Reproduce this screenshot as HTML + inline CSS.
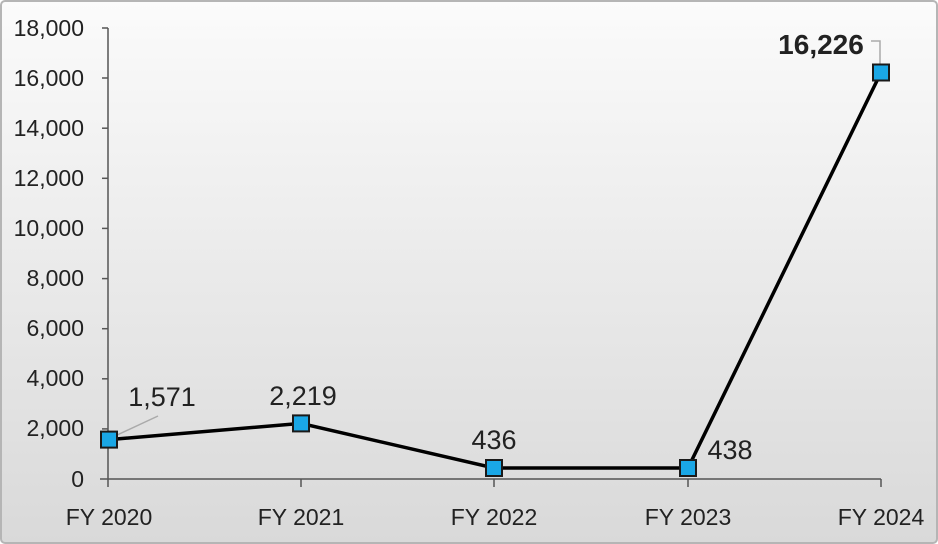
<!DOCTYPE html>
<html><head><style>
body{margin:0;background:#fff}
svg{display:block}
text{font-family:"Liberation Sans",sans-serif;fill:#222}
</style></head><body>
<svg width="938" height="544" viewBox="0 0 938 544">
<defs><linearGradient id="g" x1="0" y1="0" x2="0" y2="1">
<stop offset="0" stop-color="#fbfbfb"/><stop offset="1" stop-color="#d9d9d9"/></linearGradient></defs>
<rect x="1" y="1" width="936" height="542" rx="4" fill="url(#g)" stroke="#b5b5b5" stroke-width="2"/>
<g stroke="#555" stroke-width="1.5">
<line x1="108" y1="28" x2="108" y2="479"/>
<line x1="100" y1="479" x2="881" y2="479"/>
<line x1="102" y1="28" x2="108" y2="28"/><line x1="102" y1="78" x2="108" y2="78"/><line x1="102" y1="128.2" x2="108" y2="128.2"/><line x1="102" y1="178.3" x2="108" y2="178.3"/><line x1="102" y1="228.4" x2="108" y2="228.4"/><line x1="102" y1="278.6" x2="108" y2="278.6"/><line x1="102" y1="328.7" x2="108" y2="328.7"/><line x1="102" y1="378.8" x2="108" y2="378.8"/><line x1="102" y1="428.9" x2="108" y2="428.9"/>
<line x1="301" y1="479" x2="301" y2="487"/><line x1="494" y1="479" x2="494" y2="487"/><line x1="688" y1="479" x2="688" y2="487"/><line x1="881" y1="479" x2="881" y2="487"/><line x1="108" y1="479" x2="108" y2="487"/>
</g>
<g font-size="23" text-anchor="end">
<text x="84" y="36">18,000</text><text x="84" y="86">16,000</text><text x="84" y="136">14,000</text><text x="84" y="186">12,000</text><text x="84" y="236">10,000</text><text x="84" y="286">8,000</text><text x="84" y="336">6,000</text><text x="84" y="386">4,000</text><text x="84" y="436">2,000</text><text x="84" y="487">0</text>
</g>
<g font-size="23" text-anchor="middle">
<text x="109" y="525">FY 2020</text><text x="301" y="525">FY 2021</text><text x="494" y="525">FY 2022</text><text x="688" y="525">FY 2023</text><text x="881" y="525">FY 2024</text>
</g>
<polyline points="109,439.6 301,423.4 494,468 688,468 881,72.5" fill="none" stroke="#000" stroke-width="3.5"/>
<line x1="115" y1="436" x2="158" y2="416" stroke="#aaa" stroke-width="1.5"/>
<polyline points="871,41 880,41 880,64" fill="none" stroke="#aaa" stroke-width="1.5"/>
<g fill="#1aa7e6" stroke="#1a1a1a" stroke-width="2">
<rect x="101" y="431.6" width="16" height="16"/><rect x="293" y="415.4" width="16" height="16"/><rect x="486" y="460" width="16" height="16"/><rect x="680" y="460" width="16" height="16"/><rect x="873" y="64.5" width="16" height="16"/>
</g>
<g font-size="27" text-anchor="middle">
<text x="162" y="406">1,571</text><text x="303" y="405">2,219</text><text x="494" y="449">436</text><text x="730" y="459">438</text>
<text x="821" y="54" font-weight="bold" font-size="28">16,226</text>
</g>
</svg>
</body></html>
